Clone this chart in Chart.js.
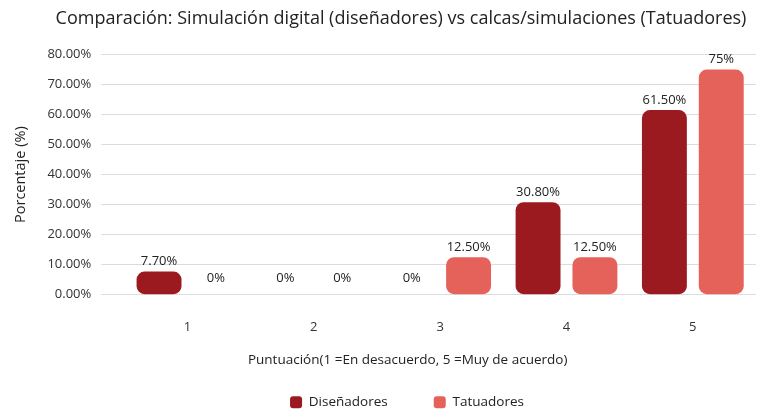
<!DOCTYPE html>
<html>
<head>
<meta charset="utf-8">
<script src="https://cdn.jsdelivr.net/npm/chart.js@4"></script>
<style>
  html, body { margin: 0; padding: 0; background: #fff; }
  #wrap { width: 758px; height: 411px; }
</style>
</head>
<body>
<div id="wrap"><canvas id="c"></canvas></div>
<script>
const categories = ['1', '2', '3', '4', '5'];
const disenadores = [7.7, 0, 0, 30.8, 61.5];
const tatuadores = [0, 0, 12.5, 12.5, 75];
const valueLabels = {
    disenadores: ['7.70%', '0%', '0%', '30.80%', '61.50%'],
    tatuadores: ['0%', '0%', '12.50%', '12.50%', '75%'],
};
const yTicks = [0, 10, 20, 30, 40, 50, 60, 70, 80];

Chart.defaults.font.family = '"Open Sans", sans-serif';
Chart.defaults.color = '#333';

// value labels above each bar
const barLabels = {
    id: 'barLabels',
    afterDatasetsDraw(chart) {
        const ctx = chart.ctx;
        ctx.save();
        ctx.font = '13px "Open Sans", sans-serif';
        ctx.fillStyle = '#222';
        ctx.textAlign = 'center';
        ctx.textBaseline = 'middle';
        const keys = ['disenadores', 'tatuadores'];
        chart.data.datasets.forEach((ds, i) => {
            chart.getDatasetMeta(i).data.forEach((bar, j) => {
                const off = ds.data[j] === 0 ? 16 : 10;
                ctx.fillText(valueLabels[keys[i]][j], bar.x, bar.y - off);
            });
        });
        ctx.restore();
    }
};

// original centres title / axis title / legend a bit right of the canvas middle
const nudge = {
    id: 'nudge',
    afterLayout(chart) {
        const t = chart.titleBlock;
        t.left += 17; t.right += 17;
        const l = chart.legend;
        l.left += 23; l.right += 23;
        chart.scales.x.left -= 65;
    }
};

new Chart(document.getElementById('c'), {
    type: 'bar',
    data: {
        labels: categories,
        datasets: [
            {
                label: 'Diseñadores',
                data: disenadores,
                backgroundColor: '#9b1a20',
                borderRadius: 8,
                borderSkipped: false,
                categoryPercentage: 0.9,
                barPercentage: 0.79,
            },
            {
                label: 'Tatuadores',
                data: tatuadores,
                backgroundColor: '#e5625b',
                borderRadius: 8,
                borderSkipped: false,
                categoryPercentage: 0.9,
                barPercentage: 0.79,
            },
        ],
    },
    options: {
        responsive: true,
        maintainAspectRatio: false,
        animation: false,
        layout: { padding: { top: 8, right: 2, left: 12, bottom: -8 } },
        plugins: {
            title: {
                display: true,
                text: 'Comparación: Simulación digital (diseñadores) vs calcas/simulaciones (Tatuadores)',
                color: '#222',
                font: { size: 18, weight: 'normal' },
                padding: { top: 0, bottom: 25 },
            },
            legend: {
                position: 'bottom',
                labels: {
                    color: '#222',
                    font: { size: 13.5 },
                    boxWidth: 12,
                    boxHeight: 12,
                    useBorderRadius: true,
                    borderRadius: 3,
                    padding: 46,
                },
            },
            tooltip: { enabled: false },
        },
        scales: {
            x: {
                grid: { display: false, drawTicks: false },
                border: { display: false },
                ticks: { color: '#333', font: { size: 13 }, padding: 25 },
                title: {
                    display: true,
                    text: 'Puntuación(1 =En desacuerdo, 5 =Muy de acuerdo)',
                    color: '#222',
                    font: { size: 13.5 },
                    padding: { top: -8, bottom: -19 },
                },
            },
            y: {
                min: 0,
                max: 80,
                afterBuildTicks(axis) {
                    axis.ticks = yTicks.map(v => ({ value: v }));
                },
                grid: { color: '#dcdcdc', tickColor: '#dcdcdc', tickLength: 23, lineWidth: 1 },
                border: { display: false },
                ticks: {
                    color: '#333',
                    font: { size: 13 },
                    padding: 10,
                    callback: v => v.toFixed(2) + '%',
                },
                title: {
                    display: true,
                    text: 'Porcentaje (%)',
                    color: '#222',
                    font: { size: 14.5 },
                    padding: { top: 0, bottom: 8 },
                },
            },
        },
    },
    plugins: [barLabels, nudge],
});
</script>
</body>
</html>
